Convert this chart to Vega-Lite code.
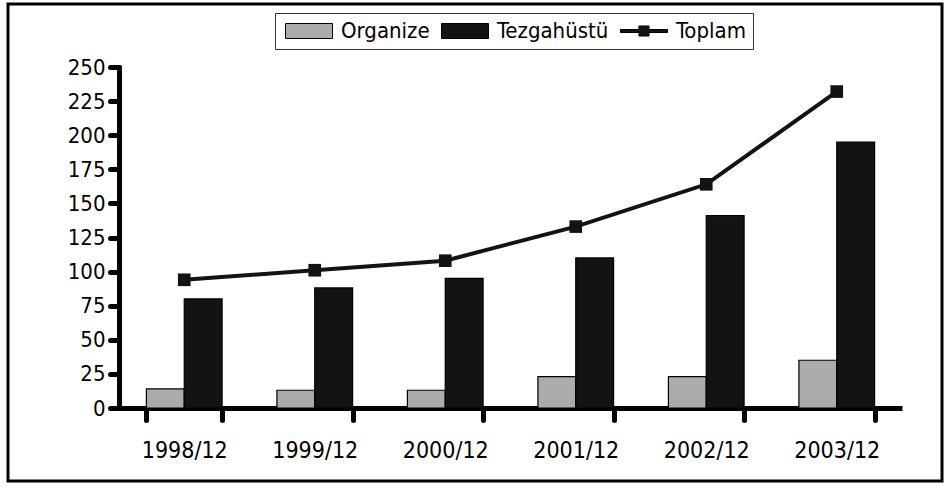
{
  "$schema": "https://vega.github.io/schema/vega-lite/v6.json",
  "autosize": "none",
  "width": 934,
  "height": 477,
  "padding": {"left": 8, "top": 4, "right": 2, "bottom": 6},
  "background": "white",
  "data": {
    "values": [
      {"donem": "1998/12", "seri": "Organize", "deger": 14},
      {"donem": "1998/12", "seri": "Tezgahüstü", "deger": 80},
      {"donem": "1998/12", "seri": "Toplam", "deger": 94},
      {"donem": "1999/12", "seri": "Organize", "deger": 13},
      {"donem": "1999/12", "seri": "Tezgahüstü", "deger": 88},
      {"donem": "1999/12", "seri": "Toplam", "deger": 101},
      {"donem": "2000/12", "seri": "Organize", "deger": 13},
      {"donem": "2000/12", "seri": "Tezgahüstü", "deger": 95},
      {"donem": "2000/12", "seri": "Toplam", "deger": 108},
      {"donem": "2001/12", "seri": "Organize", "deger": 23},
      {"donem": "2001/12", "seri": "Tezgahüstü", "deger": 110},
      {"donem": "2001/12", "seri": "Toplam", "deger": 133},
      {"donem": "2002/12", "seri": "Organize", "deger": 23},
      {"donem": "2002/12", "seri": "Tezgahüstü", "deger": 141},
      {"donem": "2002/12", "seri": "Toplam", "deger": 164},
      {"donem": "2003/12", "seri": "Organize", "deger": 35},
      {"donem": "2003/12", "seri": "Tezgahüstü", "deger": 195},
      {"donem": "2003/12", "seri": "Toplam", "deger": 232}
    ]
  },
  "encoding": {
    "x": {
      "field": "donem",
      "type": "nominal",
      "sort": null,
      "scale": {"range": [111, 894], "paddingInner": 0.42, "paddingOuter": 0.21},
      "axis": {
        "title": null,
        "orient": "bottom",
        "offset": -73,
        "labelAngle": 0,
        "tickBand": "extent",
        "tickSize": 12,
        "tickWidth": 5,
        "tickCap": "round",
        "tickColor": "#000",
        "domainColor": "#000",
        "domainWidth": 5,
        "labelPadding": 19,
        "labelFontSize": 23,
        "labelColor": "#000",
        "grid": false
      }
    },
    "y": {
      "field": "deger",
      "type": "quantitative",
      "scale": {"domain": [0, 250], "range": [404, 63], "nice": false, "zero": true},
      "axis": {
        "title": null,
        "orient": "left",
        "offset": -111,
        "values": [0, 25, 50, 75, 100, 125, 150, 175, 200, 225, 250],
        "tickSize": 9,
        "tickWidth": 5,
        "tickCap": "round",
        "tickColor": "#000",
        "domainColor": "#000",
        "domainWidth": 5,
        "domainCap": "round",
        "labelPadding": 5,
        "labelFontSize": 22,
        "labelColor": "#000",
        "grid": false
      }
    }
  },
  "layer": [
    {
      "transform": [{"filter": "datum.seri !== 'Toplam'"}],
      "mark": {"type": "bar", "stroke": "#000", "strokeWidth": 1.2},
      "encoding": {
        "xOffset": {
          "field": "seri",
          "type": "nominal",
          "scale": {"domain": ["Organize", "Tezgahüstü"], "paddingInner": 0, "paddingOuter": 0}
        },
        "color": {
          "field": "seri",
          "type": "nominal",
          "scale": {
            "domain": ["Organize", "Tezgahüstü", "Toplam"],
            "range": ["#ababab", "#131313", "#131313"]
          },
          "legend": {
            "title": null,
            "orient": "none",
            "direction": "horizontal",
            "legendX": 267,
            "legendY": 9,
            "padding": 7,
            "strokeColor": "#333",
            "symbolSize": 225,
            "labelOffset": 37,
            "columnPadding": 8,
            "labelFontSize": 22,
            "labelColor": "#000",
            "symbolStrokeColor": "#000",
            "symbolStrokeWidth": 1,
            "encode": {
              "symbols": {
                "update": {
                  "shape": {"signal": "datum.value === 'Toplam' ? 'M-1,-0.2H1.46V-0.67H2.8V-0.2H5.27V0.2H2.8V0.67H1.46V0.2H-1Z' : 'M-1,-1H5.27V1H-1Z'"},
                  "fill": {"signal": "datum.value === 'Organize' ? '#ababab' : '#131313'"},
                  "stroke": {"value": "#000"}
                }
              }
            }
          }
        }
      }
    },
    {
      "transform": [{"filter": "datum.seri === 'Toplam'"}],
      "mark": {"type": "line", "color": "#131313", "strokeWidth": 4},
      "encoding": {}
    },
    {
      "transform": [{"filter": "datum.seri === 'Toplam'"}],
      "mark": {"type": "square", "filled": true, "size": 160, "opacity": 1},
      "encoding": {
        "color": {"field": "seri", "type": "nominal"}
      }
    }
  ],
  "config": {
    "font": "DejaVu Sans Condensed, sans-serif",
    "view": {"stroke": "#000", "strokeWidth": 3}
  }
}
